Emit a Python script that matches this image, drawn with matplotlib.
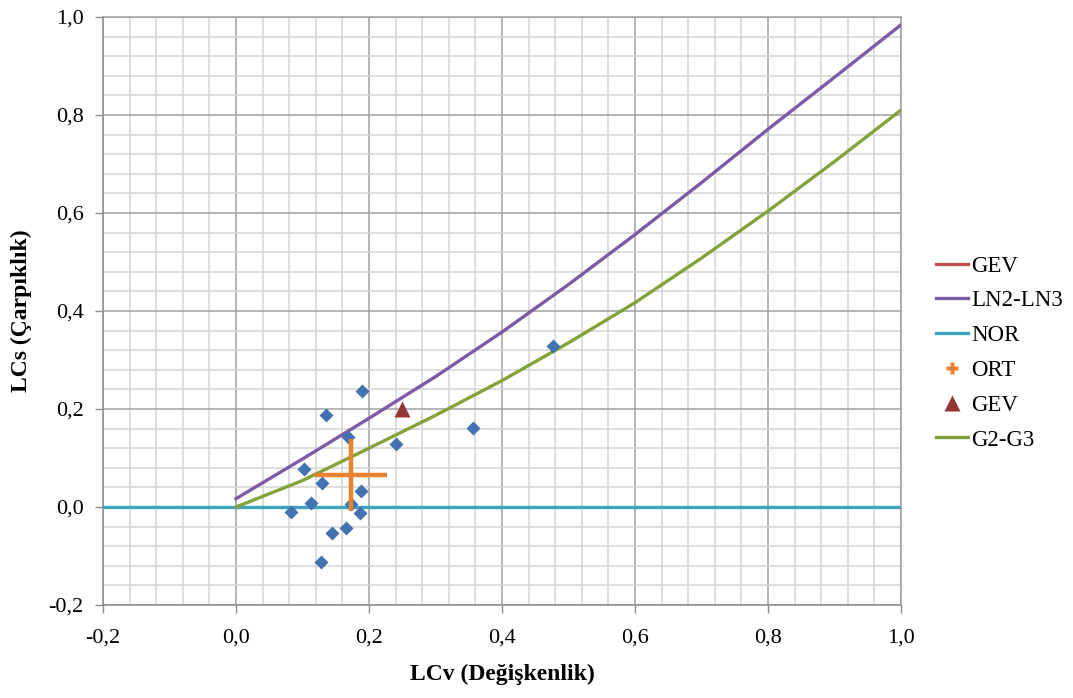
import numpy as np
import matplotlib
matplotlib.use('Agg')
import matplotlib.pyplot as plt
from matplotlib.ticker import MultipleLocator, FuncFormatter
from matplotlib.lines import Line2D

plt.rcParams['font.family'] = ['Liberation Serif', 'DejaVu Serif']

# station L-moment ratios (LCv, LCs)
station_cv = [0.189, 0.135, 0.169, 0.240, 0.102, 0.130, 0.1875, 0.113, 0.173,
              0.083, 0.187, 0.166, 0.144, 0.128, 0.476, 0.356]
station_cs = [0.237, 0.188, 0.142, 0.128, 0.077, 0.050, 0.032, 0.0075, 0.006,
              -0.0095, -0.012, -0.042, -0.054, -0.112, 0.329, 0.161]

# regional mean and GEV point
ort_cv, ort_cs = [0.1725], [0.065]
gev_cv, gev_cs = [0.250], [0.200]

# theoretical curves
curve_cv = [0.0, 0.1, 0.2, 0.3, 0.4, 0.5, 0.6, 0.7, 0.8, 0.9, 1.0]
ln_cs = [0.017, 0.098, 0.181, 0.266, 0.357, 0.454, 0.556, 0.662, 0.771, 0.877, 0.984]
gam_cs = [0.0, 0.054, 0.120, 0.187, 0.258, 0.335, 0.417, 0.508, 0.604, 0.705, 0.810]
nor_cv = [-0.2, 1.0]
nor_cs = [0.0, 0.0]

c_gev_line = '#C0504D'
c_ln = '#7B5AA6'
c_nor = '#3FA3BD'
c_ort = '#E8822E'
c_gev_pt = '#943634'
c_gam = '#84A23A'
c_pts = '#4372B3'

fig = plt.figure(figsize=(10.73, 6.98), dpi=100)
ax = fig.add_axes([103 / 1073, 1 - 605 / 698, 798 / 1073, 588 / 698])

ax.set_xlim(-0.2, 1.0)
ax.set_ylim(-0.2, 1.0)
ax.xaxis.set_major_locator(MultipleLocator(0.2))
ax.yaxis.set_major_locator(MultipleLocator(0.2))
ax.xaxis.set_minor_locator(MultipleLocator(0.04))
ax.yaxis.set_minor_locator(MultipleLocator(0.04))
ax.grid(which='minor', color='#D4D4D4', linewidth=1.1, zorder=0)
ax.grid(which='major', color='#A0A0A0', linewidth=1.1, zorder=0)
ax.set_axisbelow(True)

fmt = FuncFormatter(lambda v, p: f'{v:.1f}'.replace('.', ',').replace('\u2212', '-'))
ax.xaxis.set_major_formatter(fmt)
ax.yaxis.set_major_formatter(fmt)
ax.tick_params(which='major', length=6, width=1, color='#8C8C8C', labelsize=16, pad=8)
ax.tick_params(axis='x', pad=11)
ax.tick_params(which='minor', length=0)

for s in ['left', 'bottom']:
    ax.spines[s].set_color('#8C8C8C')
    ax.spines[s].set_linewidth(1.1)
for s in ['top', 'right']:
    ax.spines[s].set_color('#A0A0A0')
    ax.spines[s].set_linewidth(1.1)

ax.plot([], [], color=c_gev_line, lw=2.4, label='GEV')
ax.plot(curve_cv, ln_cs, color=c_ln, lw=2.4, label='LN2-LN3', zorder=3)
ax.plot(nor_cv, nor_cs, color=c_nor, lw=2.4, label='NOR', zorder=3)
ax.plot(station_cv, station_cs, 'D', color=c_pts, ms=7, mec='none', zorder=4)
ax.plot(ort_cv, ort_cs, '+', color=c_ort, ms=52, mew=3.2, zorder=5)
ax.plot(gev_cv, gev_cs, '^', color=c_gev_pt, ms=12, mec='none', zorder=5)
ax.plot(curve_cv, gam_cs, color=c_gam, lw=2.4, label='G2-G3', zorder=3)

ax.set_xlabel('LCv (Değişkenlik)', fontsize=17, fontweight='bold', labelpad=12)
ax.set_ylabel('LCs (Çarpıklık)', fontsize=17, fontweight='bold', labelpad=12)

handles = [
    Line2D([], [], color=c_gev_line, lw=2.4),
    Line2D([], [], color=c_ln, lw=2.4),
    Line2D([], [], color=c_nor, lw=2.4),
    Line2D([], [], color=c_ort, marker='P', ls='none', ms=9, mec='none'),
    Line2D([], [], color=c_gev_pt, marker='^', ls='none', ms=11, mec='none'),
    Line2D([], [], color=c_gam, lw=2.4),
]
labels = ['GEV', 'LN2-LN3', 'NOR', 'ORT', 'GEV', 'G2-G3']
fig.legend(handles, labels, loc='center left', bbox_to_anchor=(936 / 1073, 1 - 353 / 698),
           frameon=False, fontsize=16.5, handlelength=1.4, handletextpad=0.15,
           labelspacing=0.6, borderpad=0, borderaxespad=0)

fig.savefig('out.png', dpi=100)
